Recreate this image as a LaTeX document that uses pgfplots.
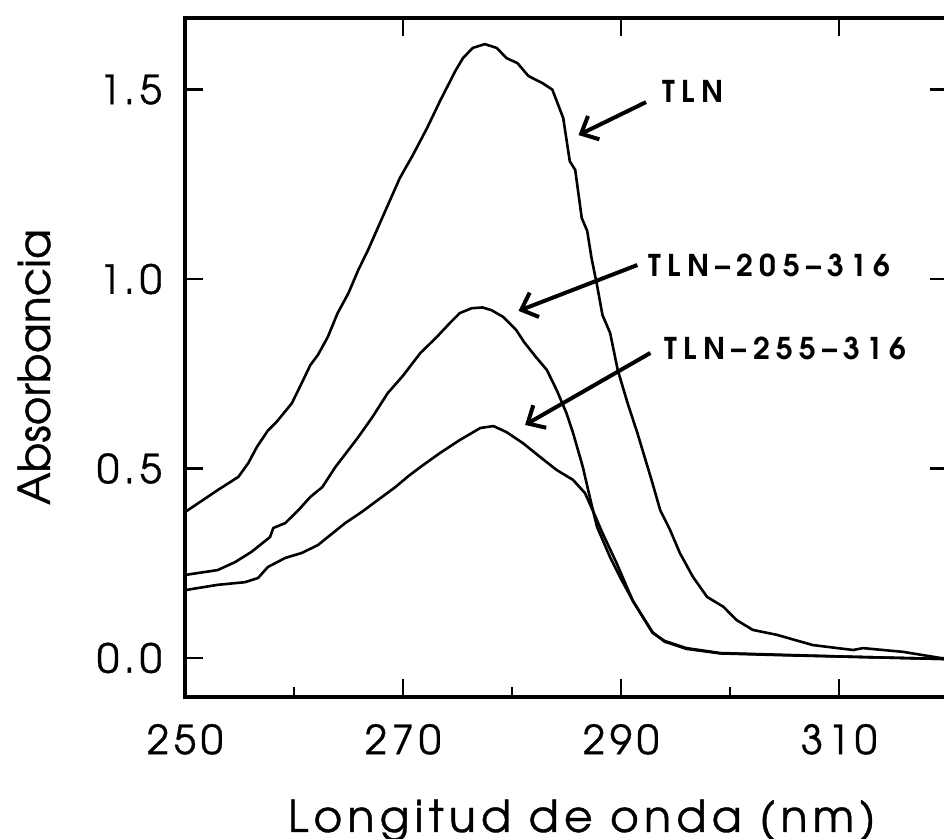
\documentclass[border=0pt]{standalone}
\usepackage{fontspec}
\setmainfont{TeX Gyre Adventor}
\newfontfamily\tickfont{TeX Gyre Adventor}[LetterSpace=12, FakeBold=0.8]
\newfontfamily\ylabfont{TeX Gyre Adventor}[FakeBold=0.8]
\newfontfamily\annfont{TeX Gyre Adventor}[LetterSpace=21]
\usepackage{pgfplots}
\pgfplotsset{compat=1.18}
\usetikzlibrary{arrows.meta,calc}

\pgfplotstableread{
x y
250.0 0.385
253.0 0.443
254.9 0.478
255.8 0.514
256.6 0.557
257.6 0.600
258.4 0.623
259.8 0.672
260.7 0.725
261.5 0.773
262.2 0.800
263.1 0.847
264.0 0.910
265.0 0.963
265.9 1.024
266.8 1.077
268.3 1.175
269.7 1.266
270.9 1.327
272.2 1.398
273.4 1.470
274.8 1.549
275.5 1.583
276.4 1.610
277.5 1.620
278.6 1.610
279.5 1.583
280.5 1.570
281.5 1.536
282.8 1.517
283.7 1.500
284.7 1.425
285.3 1.311
285.8 1.288
286.4 1.161
286.9 1.127
287.3 1.055
287.8 0.984
288.3 0.905
289.0 0.858
289.7 0.760
290.6 0.673
291.5 0.594
292.8 0.470
293.6 0.390
294.5 0.338
295.4 0.277
296.6 0.214
297.9 0.161
299.4 0.135
300.6 0.100
302.1 0.074
304.3 0.061
307.6 0.034
311.3 0.021
312.2 0.026
315.9 0.016
319.3 0.000
320.0 -0.002
}\tln

\pgfplotstableread{
x y
250.0 0.219
253.0 0.232
254.6 0.253
256.1 0.280
257.8 0.319
258.1 0.343
259.2 0.356
260.4 0.390
261.5 0.425
262.6 0.451
263.8 0.504
265.0 0.549
265.9 0.583
267.2 0.636
268.6 0.699
270.0 0.745
271.6 0.805
273.1 0.847
274.3 0.884
275.2 0.910
276.3 0.923
277.3 0.925
278.1 0.918
279.2 0.900
280.4 0.865
281.1 0.834
282.2 0.794
283.2 0.760
284.1 0.707
285.0 0.646
285.6 0.594
286.5 0.504
287.2 0.417
287.8 0.346
289.0 0.266
289.9 0.214
291.1 0.150
292.9 0.066
294.0 0.045
296.0 0.026
299.1 0.013
305.2 0.008
311.3 0.003
320.0 -0.003
}\tlnA

\pgfplotstableread{
x y
250.0 0.179
253.0 0.193
255.5 0.200
256.7 0.211
257.6 0.240
259.2 0.264
260.7 0.277
262.2 0.298
263.1 0.319
264.7 0.356
266.2 0.385
267.7 0.417
269.3 0.451
270.5 0.480
271.6 0.504
273.4 0.541
275.2 0.575
277.1 0.607
278.3 0.612
279.5 0.596
281.0 0.567
282.6 0.530
284.1 0.496
285.6 0.470
286.7 0.435
287.4 0.390
288.3 0.330
289.6 0.250
291.1 0.150
292.9 0.068
294.0 0.043
296.0 0.024
299.1 0.012
305.2 0.007
311.3 0.003
320.0 -0.003
}\tlnB

\begin{document}
\begin{tikzpicture}
\begin{axis}[name=ax,
  scale only axis, width=381.5pt, height=339.5pt,
  xmin=250, xmax=320, ymin=-0.103, ymax=1.689,
  axis line style={line width=1.6pt},
  xtick={250,270,290,310},
  ytick={0,0.5,1,1.5},
  tick align=inside,
  tick pos=both,
  xticklabel pos=bottom, yticklabel pos=left,
  major tick length=9pt,
  every tick/.style={black, line width=1.4pt},
  /pgf/number format/assume math mode=true,
  xticklabel style={font=\tickfont\fontsize{20}{20}\selectfont, yshift=-10pt, /pgf/number format/1000 sep={}},
  yticklabel style={font=\tickfont\fontsize{20}{20}\selectfont, xshift=-8pt, /pgf/number format/.cd, fixed, fixed zerofill, precision=1},
  xlabel={Longitud de onda (nm)},
  ylabel={Absorbancia},
  every axis x label/.style={at={(axis description cs:0.52,0)}, anchor=base, yshift=-67.5pt, font=\tickfont\fontsize{22}{22}\selectfont},
  every axis y label/.style={at={(axis description cs:-0.177,0.486)}, anchor=base, rotate=90, font=\ylabfont\fontsize{22}{22}\selectfont},
  clip=false,
]
\addplot[black, line width=1.3pt, line join=round] table {\tln};
\addplot[black, line width=1.3pt, line join=round] table {\tlnA};
\addplot[black, line width=1.3pt, line join=round] table {\tlnB};

% minor ticks at bottom
\draw[line width=1.4pt] (axis cs:260,-0.103) -- (axis cs:260,-0.0766);
\draw[line width=1.4pt] (axis cs:280,-0.103) -- (axis cs:280,-0.0766);
\draw[line width=1.4pt] (axis cs:300,-0.103) -- (axis cs:300,-0.0766);

\node[anchor=west, inner sep=0, font=\annfont\bfseries\fontsize{15}{15}\selectfont] at (axis cs:293.8,1.496) {TLN};
\node[anchor=west, inner sep=0, font=\annfont\bfseries\fontsize{15}{15}\selectfont] at (axis cs:292.5,1.037) {TLN\textendash205\textendash316};
\node[anchor=west, inner sep=0, font=\annfont\bfseries\fontsize{15}{15}\selectfont] at (axis cs:294.0,0.818) {TLN\textendash255\textendash316};

\draw[line width=2pt, -{Straight Barb[length=7pt,width=13pt,line width=2pt]}] (axis cs:292.3,1.467) -- (axis cs:286.1,1.38);
\draw[line width=2pt, -{Straight Barb[length=7pt,width=13pt,line width=2pt]}] (axis cs:291.5,1.037) -- (axis cs:280.6,0.916);
\draw[line width=2pt, -{Straight Barb[length=7pt,width=13pt,line width=2pt]}] (axis cs:292.7,0.805) -- (axis cs:281.2,0.615);
\end{axis}
\pgfresetboundingbox
\path ($(ax.south west)+(-92.5pt,-71pt)$) rectangle ($(ax.north east)+(-2pt,9pt)$);
\end{tikzpicture}
\end{document}
